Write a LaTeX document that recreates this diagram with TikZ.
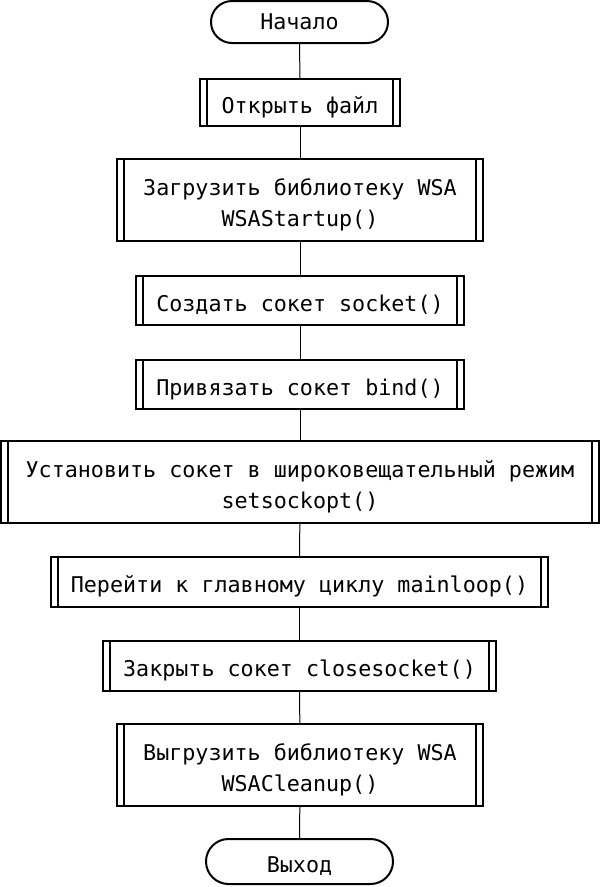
\documentclass[tikz,border=0pt]{standalone}
\usepackage{fontspec}
\setmonofont{DejaVu Sans Mono}
\usetikzlibrary{shapes.misc}
\newcommand\twolines[2]{\vbox{\halign{\hfil##\hfil\cr #1\cr #2\cr}}}
\tikzset{
  base/.style={draw, line width=2pt, inner sep=0pt, text depth=0pt, text height=21pt,
    font=\fontsize{21.7pt}{31.5pt}\selectfont\ttfamily},
  twoline/.style={text height=53.4pt},
  term/.style={base, rounded rectangle},
  proc/.style={base, path picture={
    \draw[line width=2pt] ([xshift=7pt]path picture bounding box.north west) -- ([xshift=7pt]path picture bounding box.south west);
    \draw[line width=2pt] ([xshift=-7pt]path picture bounding box.north east) -- ([xshift=-7pt]path picture bounding box.south east);}},
  link/.style={line width=1pt}
}
\begin{document}
\begin{tikzpicture}[x=1pt,y=1pt]
\useasboundingbox (0,0) rectangle (600,-887);
\node[term, minimum width=177pt, minimum height=42pt, text height=14pt] (start) at (299.5,-22) {Начало};
\node[proc, minimum width=200pt, minimum height=47pt] (open) at (300,-102.5) {Открыть файл};
\node[proc, twoline, minimum width=366pt, minimum height=82pt] (load) at (300,-200) {\twolines{Загрузить библиотеку WSA}{WSAStartup()}};
\node[proc, minimum width=328pt, minimum height=49pt] (create) at (300,-300.5) {Создать сокет socket()};
\node[proc, minimum width=328pt, minimum height=49pt] (bind) at (300,-384.5) {Привязать сокет bind()};
\node[proc, twoline, minimum width=598pt, minimum height=82pt] (setopt) at (300,-482) {\twolines{Установить сокет в широковещательный режим}{setsockopt()}};
\node[proc, minimum width=497pt, minimum height=50pt] (loop) at (299.5,-582) {Перейти к главному циклу mainloop()};
\node[proc, minimum width=393pt, minimum height=50pt] (close) at (299.5,-666) {Закрыть сокет closesocket()};
\node[proc, twoline, minimum width=366pt, minimum height=82pt] (unload) at (300,-765) {\twolines{Выгрузить библиотеку WSA}{WSACleanup()}};
\node[term, minimum width=187pt, minimum height=45pt, text height=22.4pt] (end) at (299.5,-861.5) {Выход};
\draw[link] (start) -- (open);
\draw[link] (open) -- (load);
\draw[link] (load) -- (create);
\draw[link] (create) -- (bind);
\draw[link] (bind) -- (setopt);
\draw[link] (setopt) -- (loop);
\draw[link] (loop) -- (close);
\draw[link] (close) -- (unload);
\draw[link] (unload) -- (end);
\end{tikzpicture}
\end{document}
